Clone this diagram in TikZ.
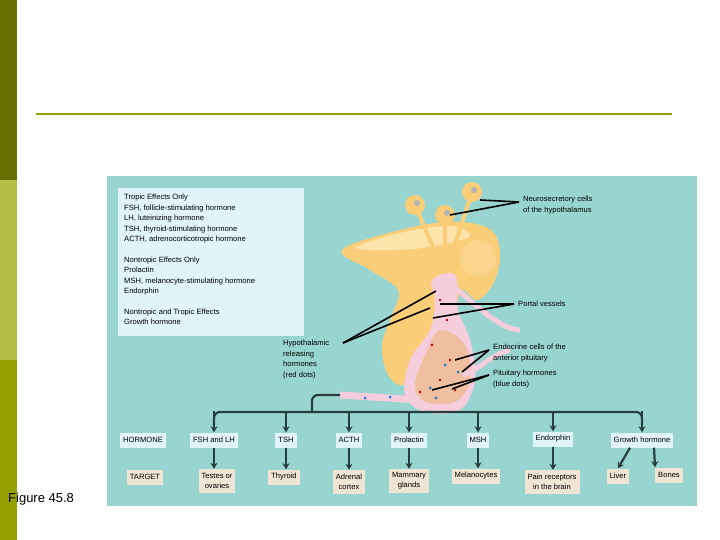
\documentclass[tikz,border=0pt]{standalone}
\usepackage{fontspec}
\setmainfont{Liberation Sans}
\usetikzlibrary{arrows.meta}
\definecolor{oliveA}{RGB}{102,112,0}
\definecolor{oliveB}{RGB}{180,190,70}
\definecolor{oliveC}{RGB}{150,160,0}
\definecolor{panel}{RGB}{152,212,208}
\definecolor{paleblue}{RGB}{224,244,250}
\definecolor{tanbox}{RGB}{240,228,212}
\definecolor{yel}{RGB}{250,205,120}
\definecolor{paleyel}{RGB}{252,228,170}
\definecolor{pinkv}{RGB}{246,205,220}
\definecolor{peach}{RGB}{240,190,160}
\definecolor{treec}{RGB}{40,62,62}
\tikzset{
  txt/.style={font=\fontsize{7.6}{10.5}\selectfont, inner sep=0pt, anchor=west, align=left},
  hbox/.style={fill=paleblue, font=\fontsize{7.6}{10}\selectfont, inner sep=3pt, align=center, minimum height=15pt},
  tbox/.style={fill=tanbox, font=\fontsize{7.6}{10}\selectfont, inner sep=3pt, align=center, minimum height=24pt},
  tree/.style={treec, line width=2.2pt},
  arr/.style={tree, -{Stealth[length=6pt,width=7pt]}},
  ptr/.style={black, line width=1.6pt}
}
\begin{document}
\begin{tikzpicture}[x=1pt,y=-1pt]
    \useasboundingbox (0,0) rectangle (720,540);
    % slide frame
    \fill[oliveA] (0,0) rectangle (17,180);
    \fill[oliveB] (0,180) rectangle (17,360);
    \fill[oliveC] (0,360) rectangle (17,540);
    \draw[oliveC, line width=2pt] (36,114) -- (672,114);
    \node[anchor=south west, font=\fontsize{13}{15}\selectfont, inner sep=0pt] (fig) at (8,505) {Figure 45.8};

    % panel
    \fill[panel] (107,176) rectangle (697,506);
    \fill[paleblue] (118,188) rectangle (304,336);
    \node[txt, anchor=north west] (key) at (124,194) {Tropic Effects Only\\FSH, follicle-stimulating hormone\\LH, luteinizing hormone\\TSH, thyroid-stimulating hormone\\ACTH, adrenocorticotropic hormone\\[10pt]Nontropic Effects Only\\Prolactin\\MSH, melanocyte-stimulating hormone\\Endorphin\\[10pt]Nontropic and Tropic Effects\\Growth hormone};

    % hypothalamus
    \fill[yel] plot[smooth cycle, tension=0.6] coordinates {(342,250) (400,230) (450,222) (488,228) (500,250) (495,280) (478,300) (462,290) (455,310) (440,330) (420,360) (405,385) (388,375) (382,345) (392,315) (398,290) (370,270)};
    \fill[paleyel] plot[smooth cycle, tension=0.6] coordinates {(355,248) (400,233) (450,226) (470,236) (440,245) (400,250)};
    \fill[yel!85!white] (478,258) circle (18);
    % stalks and cell bodies
    \foreach \cx/\cy in {415/205, 445/215, 472/192} {
      \draw[yel, line width=4pt] (\cx,\cy) -- (445,275);
      \fill[yel] (\cx,\cy) circle (10);
      \fill[gray!60] (\cx+2,\cy-2) circle (3);
    }
    % pituitary
    \fill[pinkv] plot[smooth cycle, tension=0.6] coordinates {(432,280) (455,275) (458,310) (470,340) (475,380) (460,410) (425,412) (405,395) (410,360) (430,330) (435,300)};
    \fill[peach] plot[smooth cycle, tension=0.6] coordinates {(440,330) (465,345) (470,380) (455,402) (425,402) (415,385) (425,355)};
    \draw[pinkv, line width=5pt] (452,285) .. controls (470,300) and (500,330) .. (520,330);
    \draw[pinkv, line width=5pt] (462,375) .. controls (480,370) and (490,355) .. (510,350);
    \draw[pinkv, line width=7pt] (340,395) -- (420,400);
    \foreach \px/\py in {440/300, 447/320, 432/345, 450/360, 440/380, 455/390, 420/392} {
      \fill[red!70!black] (\px,\py) circle (1.3);
    }
    \foreach \px/\py in {445/365, 430/388, 458/372, 365/398, 390/397, 436/398} {
      \fill[cyan!60!blue] (\px,\py) circle (1.5);
    }

    % labels with pointers
    \node[txt] (neuro) at (523,205) {Neurosecretory cells\\of the hypothalamus};
    \coordinate (n1) at (480,200);
    \coordinate (n2) at (450,215);
    \draw[ptr] (neuro.west) ++(-4,-3) coordinate (nt) -- (n1);
    \draw[ptr] (nt) -- (n2);
    \node[txt] (portal) at (518,304) {Portal vessels};
    \coordinate (p1) at (440,304);
    \coordinate (p2) at (433,318);
    \draw[ptr] (portal.west) ++(-4,0) coordinate (pt) -- (p1);
    \draw[ptr] (pt) -- (p2);
    \node[txt, anchor=north west] (hypo) at (283,340) {Hypothalamic\\releasing\\hormones\\(red dots)};
    \coordinate (h1) at (436,291);
    \coordinate (h2) at (430,308);
    \coordinate (ht) at (343,343);
    \draw[ptr] (ht) -- (h1);
    \draw[ptr] (ht) -- (h2);
    \node[txt] (endo) at (493,353) {Endocrine cells of the\\anterior pituitary};
    \coordinate (e1) at (455,360);
    \coordinate (e2) at (462,372);
    \draw[ptr] (endo.west) ++(-4,-3) coordinate (et) -- (e1);
    \draw[ptr] (et) -- (e2);
    \node[txt] (pith) at (493,379) {Pituitary hormones\\(blue dots)};
    \coordinate (b1) at (432,390);
    \coordinate (b2) at (452,389);
    \draw[ptr] (pith.west) ++(-4,-4) coordinate (bt) -- (b1);
    \draw[ptr] (bt) -- (b2);

    % hormone and target rows
    \node[hbox] (hrow) at (143,440) {HORMONE};
    \node[hbox] (fsh) at (214,440) {FSH and LH};
    \node[hbox] (tsh) at (286,440) {TSH};
    \node[hbox] (acth) at (349,440) {ACTH};
    \node[hbox] (prl) at (409,440) {Prolactin};
    \node[hbox] (msh) at (478,440) {MSH};
    \node[hbox] (endor) at (553,439) {Endorphin};
    \node[hbox] (gh) at (642,440) {Growth hormone};
    \node[tbox, minimum height=15pt] (trow) at (145,477) {TARGET};
    \node[tbox] (testes) at (217,481) {Testes or\\ovaries};
    \node[tbox, minimum height=15pt] (thyr) at (284,477) {Thyroid};
    \node[tbox] (adr) at (349,482) {Adrenal\\cortex};
    \node[tbox] (mam) at (409,481) {Mammary\\glands};
    \node[tbox, minimum height=15pt] (mel) at (476,476) {Melanocytes};
    \node[tbox] (pain) at (552,482) {Pain receptors\\in the brain};
    \node[tbox, minimum height=15pt] (liver) at (618,476) {Liver};
    \node[tbox, minimum height=15pt] (bones) at (669,475) {Bones};

    % branching tree
    \coordinate (src) at (340,395);
    \coordinate (split) at (312,412);
    \draw[tree, rounded corners=6pt] (src) -- (312,395) -- (split);
    \draw[tree, rounded corners=6pt] (214,425) -- (214,412) -- (642,412) -- (642,425);
    \foreach \n in {fsh, tsh, acth, prl, msh, endor, gh} {
      \draw[arr] (\n.north |- 0,411) -- (\n.north);
    }
    \foreach \h/\t in {fsh/testes, tsh/thyr, acth/adr, prl/mam, msh/mel, endor/pain} {
      \draw[arr] (\h.south) -- (\h.south |- \t.north);
    }
    \draw[arr] (gh.south) ++(-12,0) -- (liver.north);
    \draw[arr] (gh.south) ++(12,0) -- (bones.north west);
\end{tikzpicture}
\end{document}
